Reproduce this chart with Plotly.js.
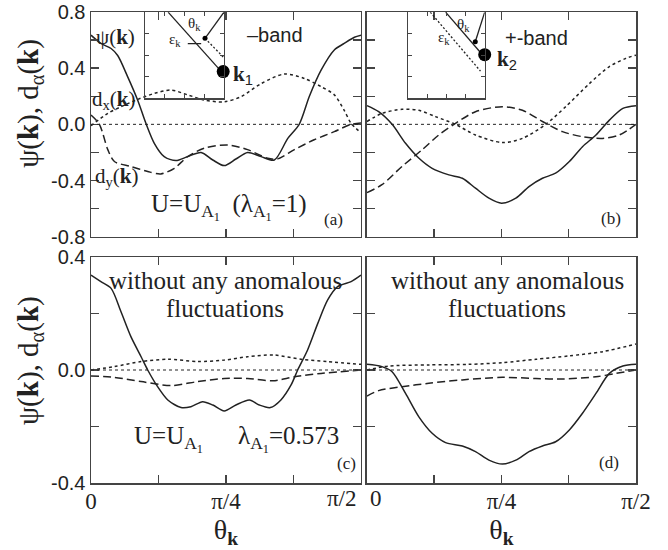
<!DOCTYPE html>
<html>
<head>
<meta charset="utf-8">
<script src="https://cdn.plot.ly/plotly-3.0.1.min.js"></script>
<style>html,body{margin:0;padding:0;background:#fff;}#chart{width:668px;height:550px;}</style>
</head>
<body>
<div id="chart"></div>
<script>
// ---------- data (theta in degrees, 0..90 = 0..pi/2) ----------
// panel (a)
const thA_psi = [0,3.3,6.7,8.9,12.2,15.6,18.3,21.1,24.4,28.3,32.2,36.7,40.6,44.4,48.3,52.2,56.7,61.1,65.6,69.4,72.8,76.7,81.1,84.4,87.8,90];
const psiA    = [0.635,0.576,0.54,0.49,0.34,0.17,0.007,-0.135,-0.23,-0.258,-0.23,-0.2,-0.254,-0.294,-0.247,-0.2,-0.23,-0.254,-0.1,0,0.2,0.386,0.53,0.576,0.62,0.635];
const thA_dx  = [0,5.6,10,15.6,21.1,26.7,32.2,37.8,44.4,50,56.7,64.4,71.1,76.7,81.1,84.4,86.7,90];
const dxA     = [-0.01,0.078,0.125,0.178,0.22,0.244,0.21,0.173,0.16,0.197,0.29,0.358,0.327,0.268,0.21,0.1,0.007,-0.06];
const thA_dy  = [0,2.8,5.6,7.8,13.3,18.9,23.3,27.8,32.2,37.8,45.6,52.2,58.9,62.2,67.8,74.4,81.1,86.7,90];
const dyA     = [0.066,0,-0.18,-0.265,-0.3,-0.336,-0.353,-0.313,-0.23,-0.17,-0.147,-0.18,-0.242,-0.246,-0.18,-0.11,-0.052,0,0.01];
// panel (b)
const thB_psi = [0,3.9,8.4,12.9,17.3,21.8,27.4,31.9,36.3,40.8,45,49.8,54.2,58.7,63.1,67.7,72.1,76.6,81.1,85.6,90];
const psiB    = [0.133,0.09,0,-0.135,-0.24,-0.313,-0.36,-0.384,-0.455,-0.526,-0.562,-0.526,-0.443,-0.384,-0.348,-0.265,-0.159,-0.076,0.03,0.114,0.133];
const thB_dx  = [0,5,11.7,17.3,22.9,29.6,36.3,45.3,52,59.8,66.5,74.4,81,86.6,90];
const dxB     = [0.02,0.078,0.107,0.1,0.055,0,-0.076,-0.13,-0.1,0,0.126,0.29,0.41,0.47,0.493];
const thB_dy  = [0,5,11.7,18.5,24,29.6,36.3,45.3,52,58.7,65.4,72.1,78.8,84.4,90];
const dyB     = [-0.486,-0.43,-0.3,-0.18,-0.076,0.007,0.09,0.126,0.1,0.02,-0.052,-0.088,-0.1,-0.076,0];
// panel (c)
const thC_psi = [0,3.3,6.7,10,13.3,16.7,18.9,22.2,25.6,30,33.3,37.2,40.6,44.4,48.3,52.8,56.1,59.8,63.3,66.7,68.9,72.2,75.6,78.9,82.2,86.7,90];
const psiC    = [0.336,0.313,0.289,0.206,0.118,0.047,0,-0.059,-0.106,-0.133,-0.13,-0.112,-0.124,-0.145,-0.124,-0.106,-0.124,-0.133,-0.106,-0.053,0,0.071,0.165,0.248,0.295,0.313,0.336];
const thC_dx  = [0,7.8,16.7,25.6,35.6,44.4,52.2,61.1,70,78.9,90];
const dxC     = [0,0.012,0.03,0.038,0.03,0.035,0.047,0.053,0.038,0.03,0.02];
const thC_dy  = [0,7.8,16.7,26.7,35.6,44.4,52.2,60.6,67.8,76.7,90];
const dyC     = [-0.021,-0.026,-0.041,-0.055,-0.041,-0.03,-0.03,-0.038,-0.024,-0.012,0];
// panel (d)
const thD_psi = [0,5,8.4,12.9,17.3,21.8,26.3,31.9,36.3,40.8,45.3,49.8,54.2,58.7,63.1,67.7,72.1,76.6,81.1,85.6,90];
const psiD    = [0.02,0.012,-0.006,-0.083,-0.165,-0.224,-0.257,-0.269,-0.289,-0.319,-0.333,-0.319,-0.289,-0.269,-0.254,-0.212,-0.153,-0.083,-0.012,0.014,0.02];
const thD_dx  = [0,7.3,20.7,34.1,45.3,56.5,67.7,78.9,90];
const dxD     = [0,0.014,0.018,0.02,0.026,0.038,0.05,0.065,0.092];
const thD_dy  = [0,3.9,11.7,20.7,31.9,45.3,56.5,65.4,76.6,83.3,90];
const dyD     = [-0.092,-0.073,-0.059,-0.047,-0.035,-0.026,-0.03,-0.032,-0.024,-0.012,0];

// tick labels
const xTickVals  = [0,22.5,45,67.5,90];
const xTickTextL = ['0','','\u03c0/4','',''];      // last label of left panel drawn shifted (see below)
const xTickTextR = ['','','\u03c0/4','','\u03c0/2']; // first label of right panel drawn shifted
const xEdgeLabels = ['\u03c0/2','0'];
const yTopVals  = [-0.8,-0.6,-0.4,-0.2,0,0.2,0.4,0.6,0.8];
const yTopText  = ['-0.8','','-0.4','','0.0','','0.4','','0.8'];
const yBotVals  = [-0.4,-0.2,0,0.2,0.4];
const yBotText  = ['-0.4','','0.0','','0.4'];

// inset schematics (unit square coordinates)
const insA_fsX = [0.29,0.97], insA_fsY = [1.0,0.307];
const insA_thX = [1.0,0.759], insA_thY = [1.0,0.696];
const insA_dtX = [0.759,0.99], insA_dtY = [0.696,0.48];
const insA_epX = [0.54,0.71], insA_epY = [0.635,0.635];
const insA_kX = [0.99], insA_kY = [0.31];
const insB_fsX = [0.49,0.97], insB_fsY = [1.0,0.506];
const insB_dtX = [0.29,0.945], insB_dtY = [1.0,0.315];
const insB_thX = [1.0,0.877], insB_thY = [1.0,0.657];
const insB_kX = [1.0], insB_kY = [0.506];

// ---------- build ----------
const INK = '#222';
const AX = '#444';
const SERIF = 'Liberation Serif, Times New Roman, serif';
const SANS = 'Liberation Sans, Arial, sans-serif';

function curve(x, y, xa, ya, dash){
  return {x:x, y:y, xaxis:xa, yaxis:ya, type:'scatter', mode:'lines',
    line:{color:INK, width:1.5, dash:dash, shape:'spline', smoothing:0.8},
    hoverinfo:'skip', showlegend:false};
}
function seg(x, y, xa, ya, dash, w){
  return {x:x, y:y, xaxis:xa, yaxis:ya, type:'scatter', mode:'lines',
    line:{color:INK, width:w||1.3, dash:dash||'solid'}, hoverinfo:'skip', showlegend:false, cliponaxis:false};
}
function dot(x, y, xa, ya, s){
  return {x:x, y:y, xaxis:xa, yaxis:ya, type:'scatter', mode:'markers',
    marker:{color:'#000', size:s}, hoverinfo:'skip', showlegend:false, cliponaxis:false};
}
const DX = '3px,3px', DY = '8px,4px';
const traces = [
  curve(thA_psi, psiA, 'x', 'y', 'solid'),
  curve(thA_dx, dxA, 'x', 'y', DX),
  curve(thA_dy, dyA, 'x', 'y', DY),
  curve(thB_psi, psiB, 'x2', 'y2', 'solid'),
  curve(thB_dx, dxB, 'x2', 'y2', DX),
  curve(thB_dy, dyB, 'x2', 'y2', DY),
  curve(thC_psi, psiC, 'x3', 'y3', 'solid'),
  curve(thC_dx, dxC, 'x3', 'y3', DX),
  curve(thC_dy, dyC, 'x3', 'y3', DY),
  curve(thD_psi, psiD, 'x4', 'y4', 'solid'),
  curve(thD_dx, dxD, 'x4', 'y4', DX),
  curve(thD_dy, dyD, 'x4', 'y4', DY),
  // inset a
  seg(insA_fsX, insA_fsY, 'x5', 'y5'),
  seg(insA_thX, insA_thY, 'x5', 'y5'),
  seg(insA_dtX, insA_dtY, 'x5', 'y5', '2px,2px'),
  seg(insA_epX, insA_epY, 'x5', 'y5'),
  dot([insA_thX[1]], [insA_thY[1]], 'x5', 'y5', 5),
  dot(insA_kX, insA_kY, 'x5', 'y5', 13),
  // inset b
  seg(insB_fsX, insB_fsY, 'x6', 'y6'),
  seg(insB_dtX, insB_dtY, 'x6', 'y6', '2px,2px'),
  seg(insB_thX, insB_thY, 'x6', 'y6'),
  dot([insB_thX[1]], [insB_thY[1]], 'x6', 'y6', 5),
  dot(insB_kX, insB_kY, 'x6', 'y6', 13)
];

const XFONT = {family:SERIF, size:23, color:INK};
function xax(dom, anchor, labels, text){
  return {domain:dom, anchor:anchor, range:[0,90], tickmode:'array', tickvals:xTickVals, ticktext:text || xTickTextL,
    showticklabels:labels, ticks:'inside', ticklen:8, tickwidth:1.5, tickcolor:AX, ticklabelstandoff:-3,
    showline:true, linecolor:AX, linewidth:1.5, mirror:'allticks', showgrid:false, zeroline:false,
    tickfont:XFONT, fixedrange:true};
}
function yax(dom, anchor, rng, vals, text, labels){
  return {domain:dom, anchor:anchor, range:rng, tickmode:'array', tickvals:vals, ticktext:text,
    showticklabels:labels, ticks:'inside', ticklen:8, tickwidth:1.5, tickcolor:AX,
    showline:true, linecolor:AX, linewidth:1.5, mirror:'allticks', showgrid:false, zeroline:false,
    tickfont:{family:SANS, size:20, color:INK}, fixedrange:true};
}
function insax(dom, anchor){
  return {domain:dom, anchor:anchor, range:[0,1], tickmode:'array', tickvals:[0.25,0.5,0.75],
    showticklabels:false, ticks:'inside', ticklen:4, tickwidth:1, tickcolor:AX,
    showline:true, linecolor:AX, linewidth:1.3, mirror:'allticks', showgrid:false, zeroline:false, fixedrange:true};
}
const LX = [0, 0.4954], RX = [0.5064, 1], TY = [0.523, 1], BY = [0, 0.4798];

function ann(text, x, y, xr, yr, size, fam, extra){
  return Object.assign({text:text, x:x, y:y, xref:xr, yref:yr, showarrow:false,
    font:{family:fam||SERIF, size:size, color:INK}, xanchor:'center', yanchor:'middle'}, extra||{});
}
const K = '<b>k</b>';
const annotations = [
  ann('\u03c8('+K+')', 8.3, 0.62, 'x', 'y', 21),
  ann('d<sub>x</sub>('+K+')', 7.6, 0.17, 'x', 'y', 21),
  ann('d<sub>y</sub>('+K+')', 8.6, -0.376, 'x', 'y', 21),
  ann('\u2013band', 61.3, 0.634, 'x', 'y', 20, SANS),
  ann(K+'<sub><span style="font-family:Liberation Sans">1</span></sub>', 50.5, 0.35, 'x', 'y', 21),
  ann('U=U<sub>A<sub>1</sub></sub>  (\u03bb<sub>A<sub>1</sub></sub>=1)', 46, -0.59, 'x', 'y', 25),
  ann('(a)', 81, -0.68, 'x', 'y', 17),
  ann('+-band', 56.6, 0.613, 'x2', 'y2', 20, SANS),
  ann(K+'<sub><span style="font-family:Liberation Sans">2</span></sub>', 46.8, 0.458, 'x2', 'y2', 21),
  ann('(b)', 81.5, -0.674, 'x2', 'y2', 17),
  ann('without any anomalous', 44.7, 0.3175, 'x3', 'y3', 25),
  ann('fluctuations', 44.7, 0.2184, 'x3', 'y3', 25),
  ann('U=U<sub>A<sub>1</sub></sub>', 25.7, -0.245, 'x3', 'y3', 25),
  ann('\u03bb<sub>A<sub>1</sub></sub>=0.573', 65.7, -0.245, 'x3', 'y3', 25),
  ann('(c)', 85.3, -0.33, 'x3', 'y3', 17),
  ann('without any anomalous', 47, 0.3175, 'x4', 'y4', 25),
  ann('fluctuations', 47, 0.2184, 'x4', 'y4', 25),
  ann('(d)', 81, -0.327, 'x4', 'y4', 17),
  // shifted edge tick labels between the two lower panels
  {text:xEdgeLabels[0], x:90, y:-0.4, xref:'x3', yref:'y3', xanchor:'right', yanchor:'top', xshift:-2, yshift:-1,
   showarrow:false, font:XFONT},
  {text:xEdgeLabels[1], x:0, y:-0.4, xref:'x4', yref:'y4', xanchor:'left', yanchor:'top', xshift:1, yshift:-1,
   showarrow:false, font:XFONT},
  // insets
  ann('\u03b8<sub>k</sub>', 0.63, 0.86, 'x5', 'y5', 15),
  ann('\u03b5<sub>k</sub>', 0.38, 0.68, 'x5', 'y5', 15),
  ann('\u03b8<sub>k</sub>', 0.72, 0.85, 'x6', 'y6', 15),
  ann('\u03b5<sub>k</sub>', 0.47, 0.7, 'x6', 'y6', 15),
  // y titles
  ann('\u03c8('+K+'), d<sub>\u03b1</sub>('+K+')', -0.112, 0.807, 'paper', 'paper', 29, SERIF, {textangle:-90}),
  ann('\u03c8('+K+'), d<sub>\u03b1</sub>('+K+')', -0.112, 0.261, 'paper', 'paper', 29, SERIF, {textangle:-90})
];

const zl = (xr, yr) => ({type:'line', xref:xr+' domain', yref:yr, x0:0, x1:1, y0:0, y1:0,
  line:{color:INK, width:1, dash:'dot'}});

const xt = {text:'\u03b8<sub>'+K+'</sub>', font:{family:SERIF, size:28, color:INK}, standoff:2};
const layout = {
  width:668, height:550, margin:{l:91, r:32, t:12, b:67},
  paper_bgcolor:'#fff', plot_bgcolor:'rgba(0,0,0,0)', showlegend:false,
  xaxis: xax(LX, 'y', false),
  yaxis: yax(TY, 'x', [-0.8,0.8], yTopVals, yTopText, true),
  xaxis2: xax(RX, 'y2', false),
  yaxis2: yax(TY, 'x2', [-0.8,0.8], yTopVals, yTopText, false),
  xaxis3: Object.assign(xax(LX, 'y3', true, xTickTextL), {title:xt}),
  yaxis3: yax(BY, 'x3', [-0.4,0.4], yBotVals, yBotText, true),
  xaxis4: Object.assign(xax(RX, 'y4', true, xTickTextR), {title:xt}),
  yaxis4: yax(BY, 'x4', [-0.4,0.4], yBotVals, yBotText, false),
  xaxis5: insax([0.0996, 0.244], 'y5'),
  yaxis5: insax([0.8168, 0.9997], 'x5'),
  xaxis6: insax([0.5817, 0.7224], 'y6'),
  yaxis6: insax([0.8168, 0.9997], 'x6'),
  shapes:[zl('x','y'), zl('x2','y2'), zl('x3','y3'), zl('x4','y4')],
  annotations: annotations
};
Plotly.newPlot('chart', traces, layout, {displayModeBar:false, staticPlot:true});
</script>
</body>
</html>
